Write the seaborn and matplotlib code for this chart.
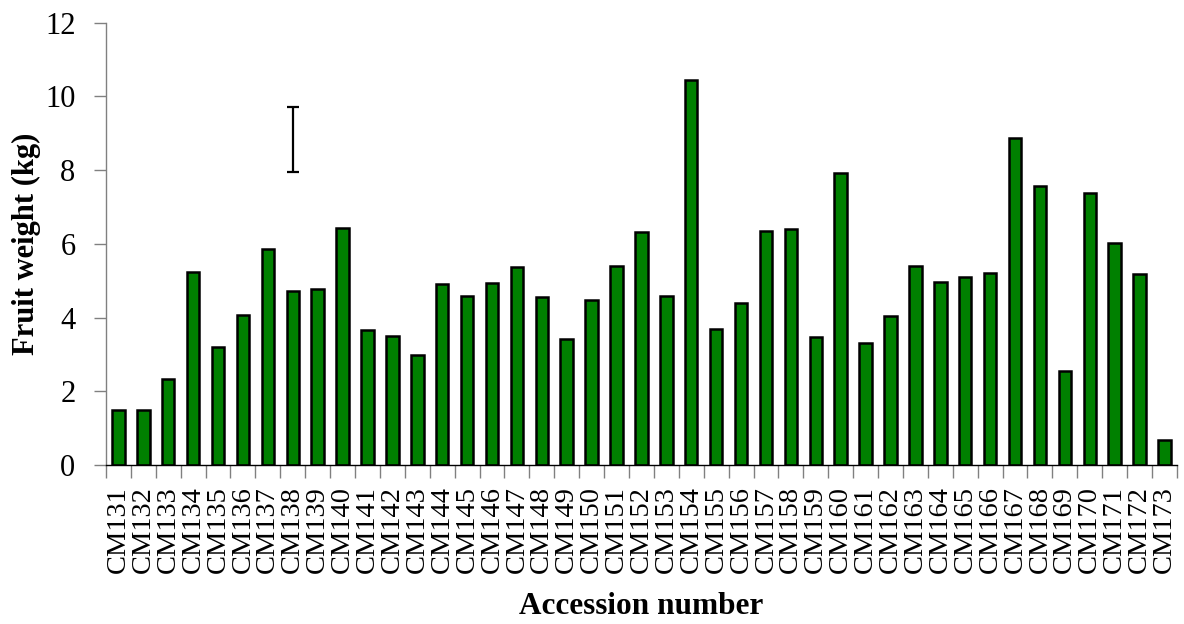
import numpy as np
import pandas as pd
import matplotlib
matplotlib.use('Agg')
import matplotlib.pyplot as plt
import seaborn as sns

#------------------------------------------------------------------------------
# DATA
#------------------------------------------------------------------------------

accessions = ['CM%d' % n for n in range(131, 174)]
fruit_weight = [1.50, 1.50, 2.34, 5.23, 3.19, 4.08, 5.85, 4.71, 4.78, 6.44,
                3.67, 3.51, 2.99, 4.92, 4.59, 4.94, 5.38, 4.55, 3.41, 4.47,
                5.41, 6.32, 4.58, 10.45, 3.68, 4.40, 6.34, 6.41, 3.47, 7.91,
                3.31, 4.05, 5.39, 4.97, 5.11, 5.22, 8.88, 7.58, 2.54, 7.38,
                6.01, 5.18, 0.68]
# standalone LSD-type bar drawn above CM138
lsd_at = 'CM138'
lsd_mid = 8.82
lsd_half = 0.88

y_ticks = [0, 2, 4, 6, 8, 10, 12]

df = pd.DataFrame({'accession': accessions, 'weight': fruit_weight})

#------------------------------------------------------------------------------
# PLOTTING
#------------------------------------------------------------------------------

sns.set_style('ticks')
plt.rcParams['font.family'] = ['Liberation Serif', 'DejaVu Serif']
# seaborn greys the text by default, the original is plain black
plt.rcParams['text.color'] = 'black'
plt.rcParams['axes.labelcolor'] = 'black'
plt.rcParams['xtick.labelcolor'] = 'black'
plt.rcParams['ytick.labelcolor'] = 'black'

fig = plt.figure(figsize=(11.84, 6.24), dpi=100)
ax = fig.add_axes([0.0895, 0.2548, 0.9045, 0.7088])

sns.barplot(data=df, x='accession', y='weight', color='#008000', saturation=1,
            edgecolor='black', linewidth=1.8, width=0.5, ax=ax)

ax.errorbar(accessions.index(lsd_at), lsd_mid, yerr=lsd_half, fmt='none',
            ecolor='black', elinewidth=1.6, capsize=4.6, capthick=1.6)

ax.set_xlim(-0.5, len(accessions) - 0.5)
ax.set_ylim(0, 12)
ax.set_yticks(y_ticks)
ax.set_yticklabels([str(t) for t in y_ticks], fontsize=22)

# x ticks sit between the bars
ax.set_xticks(np.arange(len(accessions)))
ax.set_xticklabels(accessions, rotation=90, fontsize=20.5)
ax.tick_params(axis='x', length=0, pad=15)
ax.set_xticks(np.arange(-0.5, len(accessions)), minor=True)
ax.tick_params(axis='x', which='minor', length=9, width=1, color='#808080', direction='out')
ax.tick_params(axis='y', length=9, width=1, color='#808080', direction='out', pad=13)

sns.despine(ax=ax)
ax.spines['left'].set_color('#808080')
ax.spines['left'].set_linewidth(1)
ax.spines['bottom'].set_color('black')
ax.spines['bottom'].set_linewidth(1)

ax.set_xlabel('Accession number', fontsize=22.5, fontweight='bold', labelpad=14, color='black')
ax.set_ylabel('Fruit weight (kg)', fontsize=22, fontweight='bold', labelpad=3, color='black')

fig.savefig('out.png', dpi=100)
plt.close(fig)
